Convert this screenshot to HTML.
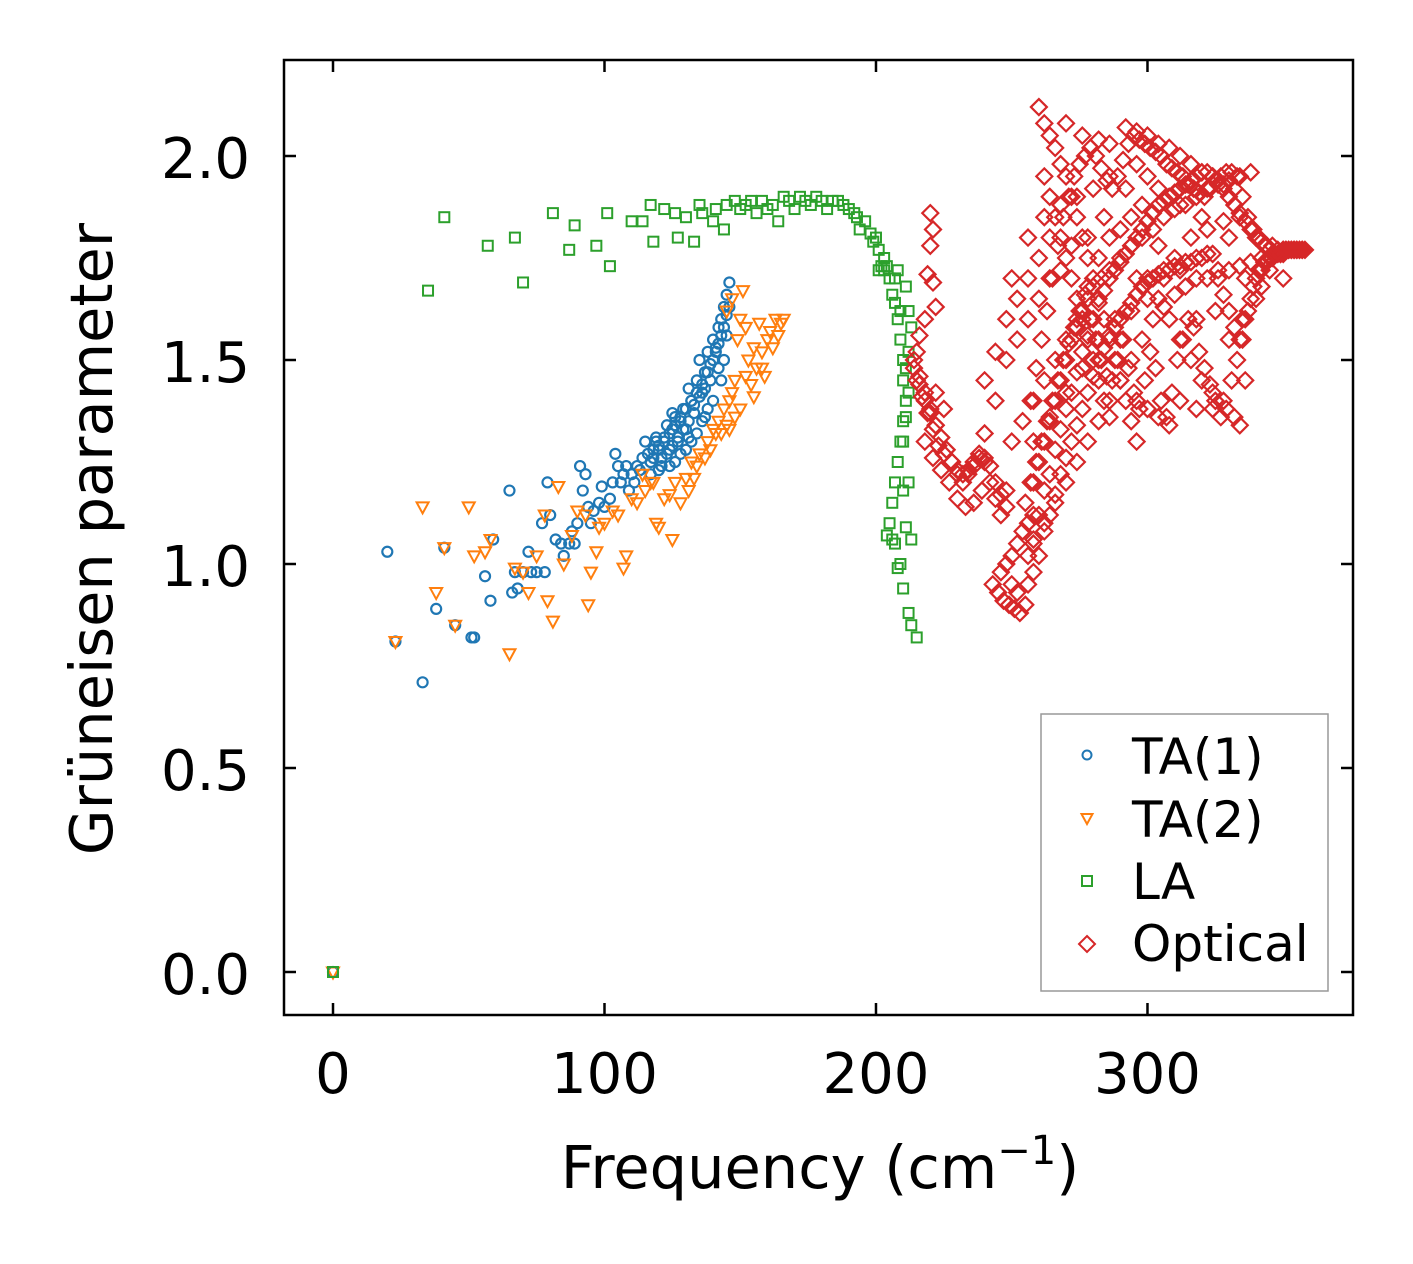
<!DOCTYPE html>
<html><head><meta charset="utf-8"><style>
html,body{margin:0;padding:0;background:#fff}
svg{display:block}
text{font-family:"DejaVu Sans","Liberation Sans",sans-serif;fill:#000}
</style></head><body>
<svg id="chart" width="1413" height="1264" viewBox="0 0 1413 1264" xmlns="http://www.w3.org/2000/svg">
<rect x="284" y="60" width="1069" height="955" fill="#fff"/>
<g id="marks"></g>
<g id="axes"></g>
<rect x="284" y="60" width="1069" height="955" fill="none" stroke="#000" stroke-width="2.5"/>
<text x="820" y="1188" font-size="59" text-anchor="middle">Frequency (cm<tspan font-size="40" dy="-24">−1</tspan><tspan dy="24">)</tspan></text>
<text transform="translate(112,539) rotate(-90)" font-size="59" text-anchor="middle">Grüneisen parameter</text>
<g>
<rect x="1041" y="714" width="287" height="277" fill="#fff" stroke="#999" stroke-width="1.5"/>
<circle cx="1087" cy="755" r="4.5" fill="none" stroke="#1f77b4" stroke-width="2"/>
<text x="1132" y="774" font-size="50">TA(1)</text>
<path d="M1081.5,814 L1092.5,814 L1087,824 Z" fill="none" stroke="#ff7f0e" stroke-width="2"/>
<text x="1132" y="837" font-size="50">TA(2)</text>
<rect x="1082" y="876" width="10" height="10" fill="none" stroke="#2ca02c" stroke-width="2"/>
<text x="1132" y="899" font-size="50">LA</text>
<path d="M1087,936 L1095,944 L1087,952 L1079,944 Z" fill="none" stroke="#d62728" stroke-width="2"/>
<text x="1132" y="961" font-size="50">Optical</text>
</g>
</svg>
<script>
const xTicks=[0,100,200,300];
const xTickLabels=["0","100","200","300"];
const yTicks=[0,0.5,1.0,1.5,2.0];
const yTickLabels=["0.0","0.5","1.0","1.5","2.0"];
const ta1X=[0,20,23,33,38,41,45,51,52,56,58,59,65,66,67,68,70,72,73,75,77,78,79,80,82,84,85,87,88,89,90,91,92,93,94,95,96,98,99,100,102,103,104,105,106,107,108,109,110,111,112,113,114,115,116,117,118,119,120,121,122,123,124,125,126,127,128,129,130,131,132,133,134,135,136,137,138,139,140,141,142,143,144,145,146,145,144,142,140,138,136,134,132,130,128,126,124,120,117,
118,120,122,124,126,128,130,132,134,136,138,140,142,144,146,121,123,125,127,129,131,133,135,137,139,141,143,145,119,125,131,137,143];
const ta1Y=[0,1.03,0.81,0.71,0.89,1.04,0.85,0.82,0.82,0.97,0.91,1.06,1.18,0.93,0.98,0.94,0.98,1.03,0.98,0.98,1.10,0.98,1.20,1.12,1.06,1.05,1.02,1.05,1.08,1.05,1.10,1.24,1.18,1.22,1.14,1.10,1.13,1.15,1.19,1.14,1.16,1.20,1.27,1.24,1.20,1.22,1.24,1.18,1.22,1.20,1.24,1.23,1.26,1.30,1.27,1.25,1.28,1.30,1.29,1.26,1.31,1.34,1.28,1.33,1.36,1.30,1.35,1.38,1.33,1.43,1.40,1.37,1.45,1.50,1.42,1.47,1.52,1.45,1.55,1.52,1.58,1.60,1.63,1.66,1.69,1.56,1.50,1.48,1.40,1.38,1.35,1.32,1.30,1.28,1.27,1.25,1.24,1.23,1.22,
1.26,1.28,1.30,1.32,1.34,1.36,1.38,1.40,1.42,1.44,1.47,1.50,1.54,1.58,1.63,1.24,1.27,1.29,1.31,1.33,1.35,1.39,1.41,1.43,1.49,1.53,1.56,1.61,1.31,1.37,1.31,1.36,1.45];
const ta2X=[0,23,33,38,41,45,50,52,56,58,65,67,70,72,75,78,79,81,83,85,88,90,93,94,95,97,98,100,103,105,107,108,110,112,114,115,117,118,119,120,122,124,125,126,128,130,131,132,133,134,135,137,138,139,140,141,142,143,144,145,146,147,148,149,150,151,152,153,154,155,156,157,158,159,160,161,162,163,164,165,166,150,152,155,158,146,148,145,147];
const ta2Y=[0,0.81,1.14,0.93,1.04,0.85,1.14,1.02,1.03,1.06,0.78,0.99,0.98,0.93,1.02,1.12,0.91,0.86,1.19,1.00,1.07,1.13,1.12,0.90,0.98,1.03,1.09,1.10,1.13,1.12,0.99,1.02,1.16,1.15,1.22,1.18,1.20,1.20,1.10,1.09,1.16,1.17,1.06,1.20,1.15,1.21,1.18,1.25,1.21,1.24,1.27,1.26,1.30,1.28,1.33,1.32,1.35,1.32,1.38,1.34,1.40,1.42,1.45,1.55,1.60,1.67,1.58,1.50,1.44,1.53,1.48,1.59,1.52,1.46,1.55,1.57,1.53,1.60,1.56,1.59,1.60,1.38,1.46,1.41,1.48,1.33,1.36,1.62,1.65];
const laX=[0,35,41,57,67,70,81,87,89,97,101,102,110,114,117,118,122,126,127,130,133,135,136,140,141,144,145,148,150,152,154,156,158,160,162,164,166,168,170,172,174,176,178,180,182,184,186,188,190,192,193,194,196,198,199,200,201,202,203,204,205,206,207,208,209,210,210,211,210,209,208,207,206,205,207,209,210,212,213,215,208,211,212,213,212,211,212,211,210,212,210,213,211,206,208,204,209,207,203,201];
const laY=[0,1.67,1.85,1.78,1.80,1.69,1.86,1.77,1.83,1.78,1.86,1.73,1.84,1.84,1.88,1.79,1.87,1.86,1.80,1.85,1.79,1.88,1.86,1.84,1.87,1.82,1.88,1.89,1.87,1.88,1.89,1.86,1.89,1.87,1.88,1.84,1.90,1.89,1.87,1.90,1.89,1.88,1.90,1.89,1.87,1.89,1.89,1.88,1.87,1.86,1.85,1.82,1.84,1.81,1.79,1.80,1.77,1.73,1.75,1.73,1.70,1.66,1.64,1.60,1.55,1.50,1.45,1.40,1.35,1.30,1.25,1.20,1.15,1.10,1.05,1.00,0.94,0.88,0.85,0.82,1.72,1.68,1.62,1.58,1.52,1.48,1.42,1.36,1.30,1.20,1.18,1.06,1.09,1.06,0.99,1.07,1.62,1.70,1.72,1.72];
const optX=[220,221,220,219,221,222,218,216,215,214,216,218,220,222,224,226,228,230,232,234,236,238,240,242,244,246,248,222,225,218,221,224,227,230,233,236,239,
243,245,247,249,251,253,255,246,248,250,252,254,256,258,250,252,
255,258,260,262,264,266,268,270,272,274,276,278,280,283,286,290,294,298,302,306,310,314,318,322,326,330,334,338,
258,262,266,270,274,278,282,286,290,294,298,302,306,310,314,318,322,326,330,334,338,342,346,350,354,358,
250,254,258,262,266,270,274,278,282,286,290,294,
260,262,264,266,268,270,272,274,276,278,280,282,284,286,288,290,292,294,296,
262,264,266,268,270,272,274,276,278,280,282,284,286,
270,276,282,286,292,296,300,304,308,312,316,320,324,328,332,296,300,304,308,312,300,304,308,312,316,320,324,328,332,334,296,300,304,308,312,318,324,
240,244,248,252,256,260,264,268,272,240,244,248,252,256,260,264,250,256,262,268,274,280,286,292,298,304,310,316,322,328,334,340,345,340,335,330,325,318,312,306,300,294,288,282,276,270,264,258,290,296,284,278,320,350,342,336,330,336,
256,258,260,262,264,266,268,270,272,274,276,278,280,282,284,286,288,290,292,294,296,298,300,302,304,306,308,310,312,314,316,318,320,322,324,326,328,330,332,334,336,338,340,342,344,346,348,350,352,354,356,
256,258,260,262,264,266,268,270,272,274,276,278,280,282,284,286,288,290,292,294,296,298,300,302,304,306,308,310,312,314,316,318,320,322,324,326,328,330,332,334,336,338,340,342,344,346,348,350,352,354,356,
257,259,261,263,265,267,269,271,273,275,277,279,281,283,285,287,289,291,293,295,297,299,301,303,305,307,309,311,313,315,317,319,321,323,325,327,329,331,333,335,337,339,341,343,345,347,349,351,353,355,357,
257,259,261,263,265,267,269,271,273,275,277,279,281,283,285,287,289,291,293,295,297,299,301,303,305,307,309,311,313,315,317,319,321,323,325,327,329,331,333,335,337,339,341,343,345,347,349,351,353,355,357,
214,216,218,220,222,224,226,228,230,232,234,236,238,240,242,244,246,248,215,217,219,221,223,225];
const optY=[1.86,1.82,1.78,1.71,1.69,1.63,1.60,1.56,1.52,1.48,1.44,1.40,1.37,1.34,1.31,1.28,1.25,1.22,1.20,1.22,1.24,1.26,1.25,1.20,1.16,1.12,1.18,1.42,1.38,1.30,1.26,1.23,1.20,1.16,1.14,1.15,1.18,
0.95,0.93,0.91,0.90,0.89,0.88,0.90,0.98,1.00,1.02,1.05,1.08,1.10,1.12,0.95,0.93,
1.15,1.20,1.25,1.30,1.35,1.40,1.45,1.50,1.55,1.58,1.62,1.65,1.68,1.70,1.72,1.75,1.78,1.80,1.82,1.85,1.87,1.88,1.90,1.92,1.93,1.94,1.95,1.96,
1.05,1.10,1.15,1.20,1.25,1.30,1.35,1.40,1.45,1.50,1.55,1.60,1.63,1.66,1.68,1.70,1.70,1.72,1.72,1.73,1.74,1.75,1.76,1.77,1.77,1.77,
1.30,1.35,1.40,1.45,1.50,1.55,1.60,1.68,1.75,1.80,1.82,1.85,
2.12,2.08,2.05,2.02,1.98,1.95,1.90,1.85,1.80,1.75,1.70,1.65,1.60,1.55,1.50,1.45,1.40,1.35,1.30,
1.95,1.90,1.85,1.80,1.75,1.70,1.65,1.60,1.55,1.50,1.45,1.40,1.36,
2.08,2.05,2.04,2.03,2.07,2.06,2.05,2.03,2.02,2.00,1.98,1.96,1.95,1.93,1.92,1.98,1.95,1.92,1.90,1.88,1.70,1.65,1.60,1.55,1.50,1.45,1.42,1.40,1.36,1.34,1.40,1.38,1.36,1.34,1.40,1.38,1.38,
1.32,1.40,1.50,1.55,1.60,1.65,1.70,1.72,1.78,1.45,1.52,1.60,1.65,1.70,1.75,1.80,1.70,1.80,1.85,1.88,1.90,1.92,1.95,1.92,1.88,1.78,1.75,1.80,1.82,1.84,1.85,1.80,1.72,1.65,1.60,1.55,1.62,1.60,1.72,1.70,1.65,1.62,1.60,1.55,1.48,1.42,1.36,1.30,1.55,1.70,1.85,1.80,1.85,1.70,1.68,1.70,1.80,1.45,
1.02,1.06,1.12,1.18,1.22,1.28,1.33,1.38,1.42,1.47,1.52,1.56,1.60,1.64,1.67,1.70,1.72,1.74,1.76,1.78,1.80,1.82,1.84,1.86,1.88,1.89,1.90,1.91,1.92,1.93,1.94,1.95,1.96,1.96,1.95,1.94,1.92,1.90,1.88,1.86,1.84,1.82,1.80,1.79,1.78,1.78,1.77,1.77,1.77,1.77,1.77,
0.95,0.98,1.02,1.08,1.12,1.17,1.22,1.26,1.30,1.34,1.38,1.42,1.46,1.50,1.53,1.56,1.58,1.60,1.62,1.64,1.66,1.68,1.69,1.70,1.71,1.72,1.72,1.73,1.73,1.74,1.74,1.75,1.75,1.76,1.76,1.70,1.66,1.62,1.58,1.55,1.60,1.65,1.70,1.72,1.74,1.75,1.76,1.76,1.77,1.77,1.77,
1.40,1.48,1.55,1.62,1.70,1.78,1.85,1.90,1.95,1.98,2.00,2.02,2.00,1.97,1.94,1.92,1.95,1.99,2.03,2.05,2.04,2.03,2.02,2.01,2.00,1.98,1.97,1.96,1.95,1.93,1.92,1.91,1.90,1.92,1.94,1.95,1.96,1.96,1.95,1.90,1.85,1.82,1.80,1.78,1.77,1.76,1.76,1.77,1.77,1.77,1.77,
1.20,1.25,1.30,1.35,1.40,1.45,1.50,1.54,1.58,1.62,1.66,1.60,1.55,1.50,1.46,1.45,1.50,1.55,1.48,1.42,1.38,1.45,1.52,1.48,1.40,1.36,1.42,1.50,1.55,1.60,1.58,1.52,1.48,1.44,1.40,1.36,1.38,1.45,1.50,1.55,1.62,1.68,1.72,1.74,1.75,1.76,1.76,1.77,1.77,1.77,1.77,
1.50,1.46,1.42,1.38,1.34,1.31,1.28,1.25,1.23,1.22,1.23,1.25,1.27,1.26,1.24,1.20,1.17,1.14,1.45,1.41,1.37,1.33,1.29,1.27];

const NS="http://www.w3.org/2000/svg";
const xMin=-18.05,xMax=375.7,yMin=-0.1054,yMax=2.2353;
const L=284,R=1353,T=60,B=1015;
function sx(v){return L+(v-xMin)/(xMax-xMin)*(R-L);}
function sy(v){return B-(v-yMin)/(yMax-yMin)*(B-T);}
const marks=document.getElementById('marks');
const axes=document.getElementById('axes');
function circ(x,y,c){const e=document.createElementNS(NS,'circle');e.setAttribute('cx',x);e.setAttribute('cy',y);e.setAttribute('r',5);e.setAttribute('fill','none');e.setAttribute('stroke',c);e.setAttribute('stroke-width',2.2);return e;}
function tri(x,y,c){const e=document.createElementNS(NS,'path');e.setAttribute('d',`M${x-6},${y-4.5} L${x+6},${y-4.5} L${x},${y+6.5} Z`);e.setAttribute('fill','none');e.setAttribute('stroke',c);e.setAttribute('stroke-width',2);return e;}
function sq(x,y,c){const e=document.createElementNS(NS,'rect');e.setAttribute('x',x-5);e.setAttribute('y',y-5);e.setAttribute('width',10);e.setAttribute('height',10);e.setAttribute('fill','none');e.setAttribute('stroke',c);e.setAttribute('stroke-width',2);return e;}
function dia(x,y,c){const e=document.createElementNS(NS,'path');e.setAttribute('d',`M${x},${y-8} L${x+8},${y} L${x},${y+8} L${x-8},${y} Z`);e.setAttribute('fill','none');e.setAttribute('stroke',c);e.setAttribute('stroke-width',2.2);return e;}
function series(xs,ys,fn,c,name){
  const g=document.createElementNS(NS,'g');
  
  
  for(let i=0;i<xs.length;i++){
    const e=fn(sx(xs[i]),sy(ys[i]),c);
    
    
    g.appendChild(e);
  }
  marks.appendChild(g);
}
series(ta1X,ta1Y,circ,'#1f77b4','ta1');
series(ta2X,ta2Y,tri,'#ff7f0e','ta2');
series(laX,laY,sq,'#2ca02c','la');
series(optX,optY,dia,'#d62728','optical');
function line(x1,y1,x2,y2){const e=document.createElementNS(NS,'line');e.setAttribute('x1',x1);e.setAttribute('y1',y1);e.setAttribute('x2',x2);e.setAttribute('y2',y2);e.setAttribute('stroke','#000');e.setAttribute('stroke-width',2.5);return e;}
function txt(x,y,s,anchor){const e=document.createElementNS(NS,'text');e.setAttribute('x',x);e.setAttribute('y',y);e.setAttribute('font-size',56);e.setAttribute('text-anchor',anchor);e.textContent=s;return e;}
xTicks.forEach((v,i)=>{
  const x=sx(v);
  const t1=line(x,B,x,B-12);
  
  
  axes.appendChild(t1);
  const t2=line(x,T,x,T+12);
  
  
  axes.appendChild(t2);
  const lb=txt(x,1093,xTickLabels[i],'middle');
  
  
  axes.appendChild(lb);
});
yTicks.forEach((v,i)=>{
  const y=sy(v);
  const t1=line(L,y,L+12,y);
  
  
  axes.appendChild(t1);
  const t2=line(R,y,R-12,y);
  
  
  axes.appendChild(t2);
  const lb=txt(250,y+22,yTickLabels[i],'end');
  
  
  axes.appendChild(lb);
});
</script>
</body></html>
